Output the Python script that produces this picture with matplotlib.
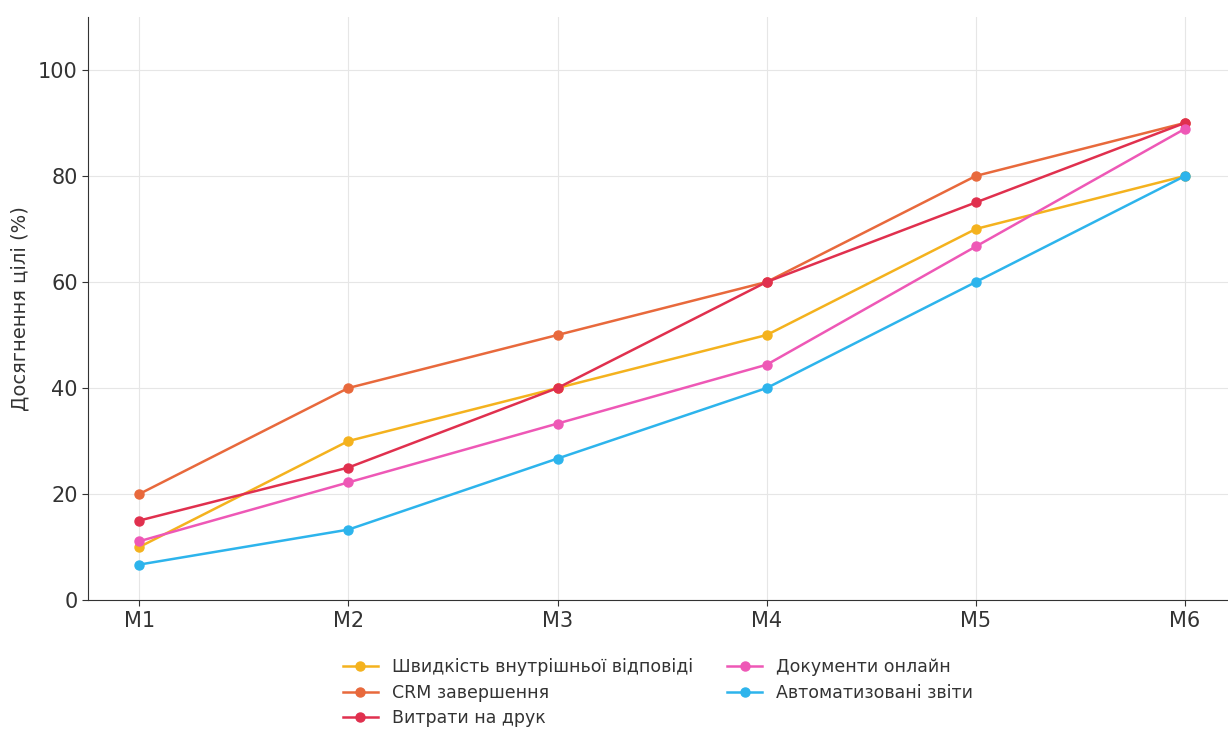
import matplotlib
matplotlib.use("Agg")
import matplotlib.pyplot as plt

# Monthly progress toward target, percent
months = ["M1", "M2", "M3", "M4", "M5", "M6"]
speed = [10, 30, 40, 50, 70, 80]
crm = [20, 40, 50, 60, 80, 90]
printing = [15, 25, 40, 60, 75, 90]
docs_online = [11.1, 22.2, 33.3, 44.4, 66.7, 88.9]
auto_reports = [6.7, 13.3, 26.7, 40, 60, 80]

series = [
    ("Швидкість внутрішньої відповіді", speed, "#F4B21E"),
    ("CRM завершення", crm, "#E8693C"),
    ("Витрати на друк", printing, "#E0304E"),
    ("Документи онлайн", docs_online, "#EE58B6"),
    ("Автоматизовані звіти", auto_reports, "#2DB4EC"),
]

plt.rcParams['font.family'] = ['DejaVu Sans']

fig = plt.figure(figsize=(12.28, 7.31), dpi=100)
ax = fig.add_axes([0.0717, 0.179, 0.9283, 0.798])

x = list(range(len(months)))
for label, vals, color in series:
    ax.plot(x, vals, color=color, linewidth=1.8, marker="o", markersize=6.5, label=label)

ax.set_xticks(x)
ax.set_xticklabels(months)
ax.set_xlim(-0.244, 5.205)
ax.set_ylim(0, 110)
ax.set_yticks([0, 20, 40, 60, 80, 100])
ax.tick_params(axis="both", labelsize=15, colors="#333333", length=4)
ax.set_ylabel("Досягнення цілі (%)", fontsize=14, color="#333333", labelpad=6)

ax.grid(True, color="#e6e6e6", linewidth=0.8)
ax.set_axisbelow(True)
for side in ("top", "right"):
    ax.spines[side].set_visible(False)
for side in ("left", "bottom"):
    ax.spines[side].set_color("#333333")

ax.legend(loc="upper center", bbox_to_anchor=(0.5, -0.072), ncol=2, frameon=False,
          fontsize=12.5, labelcolor="#333333", handlelength=2, columnspacing=2.0,
          labelspacing=0.45)

fig.savefig("out.png", dpi=100)
